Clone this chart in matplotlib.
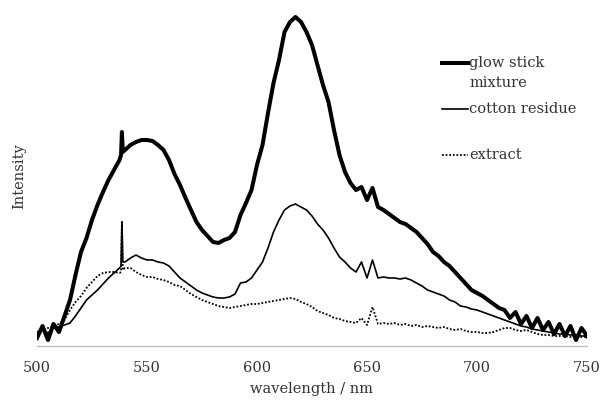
import matplotlib
matplotlib.use("Agg")
import matplotlib.pyplot as plt
from matplotlib.lines import Line2D

wavelength = [500, 502.5, 505, 507.5, 510, 512.5, 515, 517.5, 520, 522.5,
              525, 527.5, 530, 532.5, 535, 537.5, 538.2, 538.6, 539.0, 540,
              542.5, 545, 547.5, 550, 552.5, 555, 557.5, 560, 562.5, 565,
              567.5, 570, 572.5, 575, 577.5, 580, 582.5, 585, 587.5, 590,
              592.5, 595, 597.5, 600, 602.5, 605, 607.5, 610, 612.5, 615,
              617.5, 620, 622.5, 625, 627.5, 630, 632.5, 635, 637.5, 640,
              642.5, 645, 647.5, 650, 652.5, 655, 657.5, 660, 662.5, 665,
              667.5, 670, 672.5, 675, 677.5, 680, 682.5, 685, 687.5, 690,
              692.5, 695, 697.5, 700, 702.5, 705, 707.5, 710, 712.5, 715,
              717.5, 720, 722.5, 725, 727.5, 730, 732.5, 735, 737.5, 740,
              742.5, 745, 747.5, 750]

glow_stick = [8, 20, 6, 22, 14, 30, 46, 71, 94, 108,
              126, 141, 154, 166, 176, 186, 191, 214, 194, 196,
              201, 204, 206, 206, 205, 201, 196, 186, 172, 161,
              148, 136, 124, 116, 110, 104, 103, 106, 108, 114,
              131, 143, 156, 181, 201, 233, 263, 286, 314, 324,
              329, 324, 314, 301, 281, 261, 244, 216, 191, 174,
              163, 156, 159, 146, 158, 139, 136, 132, 128, 124,
              122, 118, 114, 108, 102, 94, 90, 84, 80, 74,
              68, 62, 56, 53, 50, 46, 42, 38, 36, 28,
              34, 22, 30, 18, 28, 16, 24, 12, 22, 10,
              20, 6, 18, 10]

cotton_residue = [11, 16, 13, 18, 19, 21, 23, 30, 38, 46,
                  51, 56, 62, 68, 73, 78, 80, 124, 84, 84,
                  88, 91, 88, 86, 86, 84, 83, 80, 74, 68,
                  64, 60, 56, 53, 51, 49, 48, 48, 49, 52,
                  63, 64, 68, 76, 84, 98, 114, 126, 136, 140,
                  142, 139, 136, 130, 122, 116, 108, 98, 89, 84,
                  78, 74, 84, 68, 86, 68, 69, 68, 68, 67,
                  68, 66, 63, 60, 56, 54, 52, 50, 46, 44,
                  40, 39, 37, 36, 34, 32, 30, 28, 26, 24,
                  22, 20, 19, 17, 16, 15, 14, 13, 12, 12,
                  11, 11, 10, 10]

extract = [14, 16, 18, 20, 22, 26, 36, 44, 50, 58,
           64, 70, 73, 74, 74, 73, 74, 124, 76, 78,
           78, 74, 71, 69, 69, 67, 66, 64, 61, 60,
           56, 52, 49, 46, 44, 42, 40, 39, 38, 39,
           40, 41, 42, 42, 43, 44, 45, 46, 47, 48,
           47, 44, 42, 39, 35, 33, 31, 28, 27, 25,
           24, 23, 28, 21, 39, 22, 23, 22, 23, 21,
           22, 20, 21, 19, 20, 19, 18, 19, 17, 16,
           17, 15, 14, 14, 13, 13, 14, 16, 18, 18,
           16, 15, 16, 14, 12, 11, 11, 10, 10, 10,
           9, 9, 9, 9]

xticks = [500, 550, 600, 650, 700, 750]

text_color = "#333333"
font = "DejaVu Serif"
fw = "normal"
fs = 10.5

fig = plt.figure(figsize=(6.02, 4.0), dpi=100)
ax = fig.add_axes([37 / 602, 54 / 400, 550 / 602, 340 / 400])

ax.plot(wavelength, glow_stick, color="black", lw=2.9, solid_joinstyle="round")
ax.plot(wavelength, cotton_residue, color="black", lw=1.2)
ax.plot(wavelength, extract, color="black", lw=1.3, ls=(0, (1, 1)))

ax.set_xlim(500, 750)
ax.set_ylim(0, 340)
ax.set_xticks(xticks)
ax.set_yticks([])
for s in ["top", "right", "left"]:
    ax.spines[s].set_visible(False)
ax.spines["bottom"].set_color("#bfbfbf")
ax.spines["bottom"].set_linewidth(1.0)
ax.tick_params(axis="x", length=0, pad=11, labelsize=fs, labelcolor=text_color)
for lab in ax.get_xticklabels():
    lab.set_fontfamily(font)
    lab.set_fontweight(fw)
ax.set_xlabel("wavelength / nm", fontsize=fs, color=text_color, family=font,
              fontweight=fw, labelpad=5)
ax.set_ylabel("Intensity", fontsize=fs, color=text_color, family=font,
              fontweight=fw, labelpad=8)

# legend
def fig_xy(px, py):
    return px / 602, 1 - py / 400

entries = [("glow stick", 63, 2.9, "-"), ("cotton residue", 109, 1.2, "-"), ("extract", 155, 1.3, (0, (1, 1)))]
for label, py, lw, ls in entries:
    x0, y0 = fig_xy(442, py)
    x1, _ = fig_xy(468, py)
    fig.add_artist(Line2D([x0, x1], [y0, y0], color="black", lw=lw, ls=ls))
    tx, ty = fig_xy(469, py)
    fig.text(tx, ty, label, fontsize=fs, color=text_color, family=font,
             fontweight=fw, va="center", ha="left")
tx, ty = fig_xy(469, 83)
fig.text(tx, ty, "mixture", fontsize=fs, color=text_color, family=font,
         fontweight=fw, va="center", ha="left")

fig.savefig("out.png", dpi=100)
